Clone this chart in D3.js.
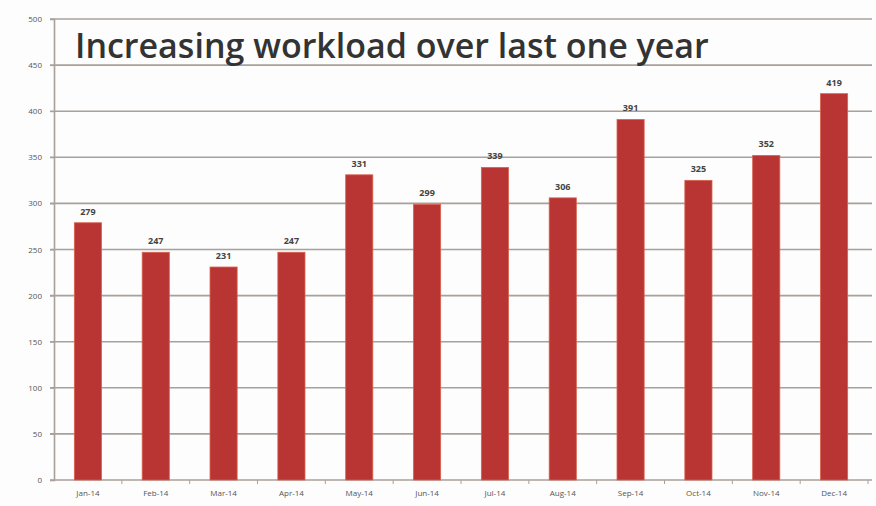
<!doctype html>
<html>
<head>
<script src="https://cdnjs.cloudflare.com/ajax/libs/d3/7.8.5/d3.min.js"></script>
<style>
  body { margin: 0; background: #fdfdfd; }
  svg { display: block; }
  .tick text { fill: #555; font-family: "Open Sans", sans-serif; font-size: 8px; }
</style>
</head>
<body>
<svg width="876" height="506"></svg>
<script>
  // data
  var months = ["Jan-14", "Feb-14", "Mar-14", "Apr-14", "May-14", "Jun-14",
                "Jul-14", "Aug-14", "Sep-14", "Oct-14", "Nov-14", "Dec-14"];
  var workload = [279, 247, 231, 247, 331, 299, 339, 306, 391, 325, 352, 419];
  var yTicks = [0, 50, 100, 150, 200, 250, 300, 350, 400, 450, 500];

  var svg = d3.select("svg");
  var plotLeft = 54, plotRight = 868, plotTop = 19, plotBottom = 480;

  var x = d3.scaleBand().domain(months).range([plotLeft, plotRight]).paddingInner(0.6).paddingOuter(0.3);
  var y = d3.scaleLinear().domain([0, 500]).range([plotBottom, plotTop]);

  // grid lines
  svg.append("g")
    .selectAll("line")
    .data(yTicks)
    .enter()
    .append("line")
    .attr("x1", plotLeft - 4)
    .attr("x2", 872)
    .attr("y1", d => y(d))
    .attr("y2", d => y(d))
    .style("stroke", "#a8a09c")
    .style("stroke-width", 1.6);

  // y axis
  var yAxis = svg.append("g")
    .attr("transform", "translate(" + plotLeft + ",0)")
    .call(d3.axisLeft(y).tickValues(yTicks).tickSize(4).tickPadding(8));
  yAxis.select(".domain").style("stroke", "#a8a09c").style("stroke-width", 1.6);
  yAxis.selectAll(".tick line").style("stroke", "#a8a09c");

  // x axis
  var xAxis = svg.append("g")
    .attr("transform", "translate(0," + plotBottom + ")")
    .call(d3.axisBottom(x).tickSize(0).tickPadding(10));
  xAxis.select(".domain").remove();
  // little ticks between the categories
  svg.append("g")
    .selectAll("line")
    .data(months)
    .enter()
    .append("line")
    .attr("x1", d => x(d) + x.bandwidth() + x.step() * 0.3)
    .attr("x2", d => x(d) + x.bandwidth() + x.step() * 0.3)
    .attr("y1", plotBottom)
    .attr("y2", plotBottom + 4)
    .style("stroke", "#a8a09c");

  // bars
  svg.append("g")
    .selectAll("rect")
    .data(workload)
    .enter()
    .append("rect")
    .attr("x", (d, i) => x(months[i]))
    .attr("width", x.bandwidth())
    .attr("y", d => y(d))
    .attr("height", d => plotBottom - y(d))
    .style("fill", "#b93533")
    .style("stroke", "#d9604e")
    .style("stroke-width", 0.8);

  // value labels
  svg.append("g")
    .selectAll("text")
    .data(workload)
    .enter()
    .append("text")
    .attr("x", (d, i) => x(months[i]) + x.bandwidth() / 2)
    .attr("y", d => y(d) - 8)
    .attr("text-anchor", "middle")
    .style("font-family", "'Open Sans', sans-serif")
    .style("font-size", "9px")
    .style("font-weight", "bold")
    .style("fill", "#444")
    .text(d => d);

  // title
  svg.append("text")
    .attr("x", 75)
    .attr("y", 58)
    .style("font-family", "'Open Sans', sans-serif")
    .style("font-size", "34px")
    .style("font-weight", "600")
    .style("fill", "#333")
    .text("Increasing workload over last one year");
</script>
</body>
</html>
